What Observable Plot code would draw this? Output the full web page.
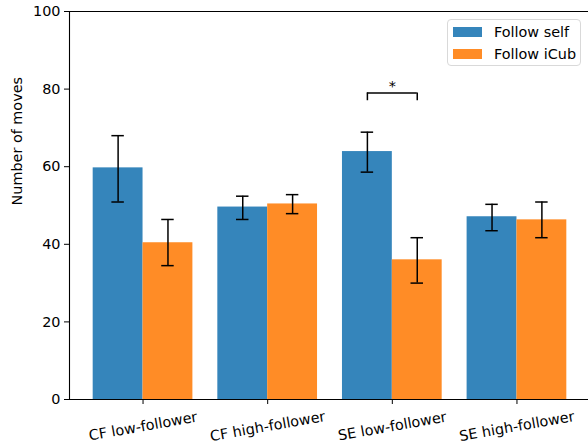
<!DOCTYPE html>
<html>
<head>
<meta charset="utf-8">
<script src="https://cdn.jsdelivr.net/npm/d3@7"></script>
<script src="https://cdn.jsdelivr.net/npm/@observablehq/plot@0.6"></script>
<style>
  html, body { margin: 0; padding: 0; background: #fff; }
  #wrap { position: relative; width: 588px; height: 444px; font-family: "DejaVu Sans", sans-serif; }
  #legend { position: absolute; left: 447px; top: 19px; width: 134px; height: 47px; border: 1px solid #d9d9d9; border-radius: 4px; background: rgba(255,255,255,0.8); box-sizing: border-box; font-size: 14.4px; color: #000; }
  .item { position: absolute; left: 5px; display: flex; align-items: center; }
  .sw { width: 29px; height: 10px; margin-right: 12px; }
</style>
</head>
<body>
<div id="wrap"></div>
<script>
const categories = ["CF low-follower", "CF high-follower", "SE low-follower", "SE high-follower"];
const series = ["Follow self", "Follow iCub"];
const colors = ["#3585bb", "#ff8c26"];
const followSelf = [59.7, 49.6, 63.9, 47.1];
const followSelfLow = [50.9, 46.4, 58.6, 43.5];
const followSelfHigh = [68.0, 52.4, 68.9, 50.3];
const followICub = [40.4, 50.4, 36.0, 46.3];
const followICubLow = [34.5, 47.9, 30.0, 41.7];
const followICubHigh = [46.4, 52.8, 41.7, 50.9];
const yTicks = [0, 20, 40, 60, 80, 100];
const significance = [{category: 2, y: 79, drop: 2, label: "*"}];

const barW = 0.4;
const rows = [];
categories.forEach((c, i) => {
  rows.push({i, s: 0, x1: i - barW, x2: i, v: followSelf[i], lo: followSelfLow[i], hi: followSelfHigh[i]});
  rows.push({i, s: 1, x1: i, x2: i + barW, v: followICub[i], lo: followICubLow[i], hi: followICubHigh[i]});
});
rows.forEach(d => { d.xc = (d.x1 + d.x2) / 2; });
const capW = 0.05;
const xmin = -0.59, xmax = 3.59;
const labels = categories.map((c, i) => ({i, c}));
const sig = significance.flatMap(d => [d]);

const chart = Plot.plot({
  width: 588,
  height: 444,
  marginLeft: 69,
  marginRight: 0,
  marginTop: 11,
  marginBottom: 45,
  style: {fontFamily: "DejaVu Sans, sans-serif", fontSize: "14.4px", color: "#000", background: "#fff"},
  x: {domain: [xmin, xmax], range: [69, 590]},
  y: {domain: [0, 100]},
  marks: [
    Plot.rectY(rows, {x1: "x1", x2: "x2", y1: 0, y2: "v", fill: d => colors[d.s], insetLeft: 0, insetRight: 0}),
    Plot.ruleX(rows, {x: "xc", y1: "lo", y2: "hi", stroke: "#000", strokeWidth: 1.5}),
    Plot.ruleY(rows, {y: "lo", x1: d => d.xc - capW, x2: d => d.xc + capW, stroke: "#000", strokeWidth: 1.5}),
    Plot.ruleY(rows, {y: "hi", x1: d => d.xc - capW, x2: d => d.xc + capW, stroke: "#000", strokeWidth: 1.5}),
    // significance bracket
    Plot.ruleY(sig, {y: "y", x1: d => d.category - barW / 2, x2: d => d.category + barW / 2, stroke: "#000", strokeWidth: 1.5}),
    Plot.ruleX(sig, {x: d => d.category - barW / 2, y1: d => d.y - d.drop, y2: "y", stroke: "#000", strokeWidth: 1.5}),
    Plot.ruleX(sig, {x: d => d.category + barW / 2, y1: d => d.y - d.drop, y2: "y", stroke: "#000", strokeWidth: 1.5}),
    Plot.text(sig, {x: d => d.category, y: "y", text: "label", dy: -2, lineAnchor: "bottom", fontSize: 14.4, fill: "#000"}),
    // spines
    Plot.ruleY([0, 100], {stroke: "#000", strokeWidth: 1.1}),
    Plot.ruleX([xmin], {stroke: "#000", strokeWidth: 1.1}),
    // axes
    Plot.axisY({ticks: yTicks, tickSize: 5, tickPadding: 4, label: null, fontSize: 14.4}),
    Plot.axisX({ticks: categories.map((c, i) => i), tickSize: 5, tickFormat: () => "", label: null}),
    Plot.text(labels, {x: "i", y: 0, text: "c", dy: 27, rotate: -10, textAnchor: "middle", lineAnchor: "middle", fontSize: 14.4, fill: "#000"}),
    Plot.text(["Number of moves"], {frameAnchor: "left", dx: -52, rotate: -90, text: d => d, fontSize: 14.4, fill: "#000"})
  ]
});

const wrap = document.getElementById("wrap");
wrap.appendChild(chart);
const legend = document.createElement("div");
legend.id = "legend";
series.forEach((s, k) => {
  const item = document.createElement("div");
  item.className = "item";
  item.style.top = (k === 0 ? 4 : 26) + "px";
  const sw = document.createElement("div");
  sw.className = "sw";
  sw.style.background = colors[k];
  const t = document.createElement("span");
  t.textContent = s;
  item.appendChild(sw);
  item.appendChild(t);
  legend.appendChild(item);
});
wrap.appendChild(legend);
</script>
</body>
</html>
